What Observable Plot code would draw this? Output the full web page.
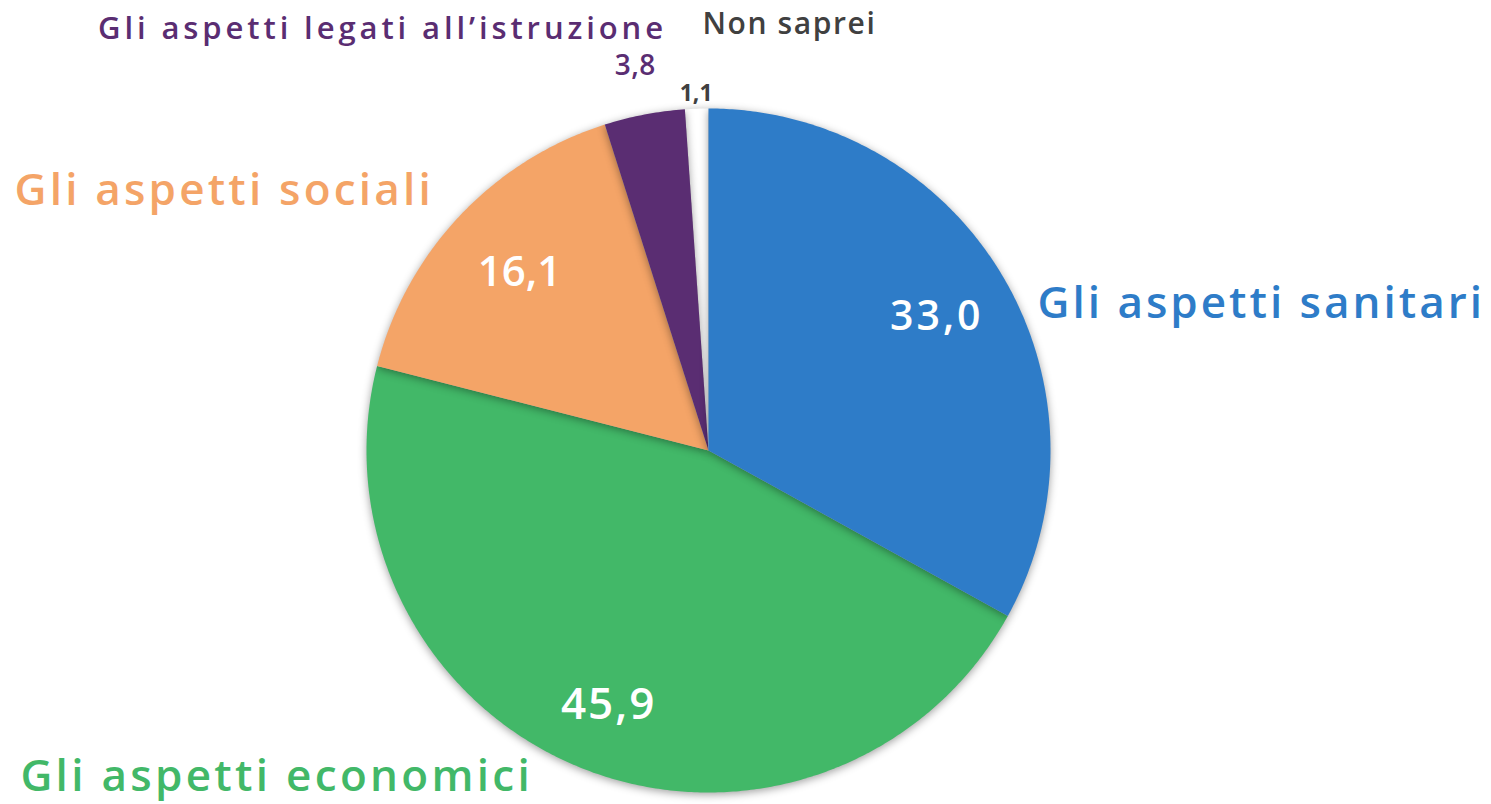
<!DOCTYPE html>
<html>
<head>
<meta charset="utf-8">
<script src="https://cdn.jsdelivr.net/npm/d3@7"></script>
<script src="https://cdn.jsdelivr.net/npm/@observablehq/plot@0.6"></script>
<style>
  html, body { margin: 0; padding: 0; background: #fff; }
  #chart svg { display: block; }
</style>
</head>
<body>
<div id="chart"></div>
<script>
// ---- data ----
const categories = ["Gli aspetti sanitari", "Gli aspetti economici", "Gli aspetti sociali", "Gli aspetti legati all\u2019istruzione", "Non saprei"];
const values = [33.0, 45.9, 16.1, 3.8, 1.1];
const valueLabels = ["33,0", "45,9", "16,1", "3,8", "1,1"];
const sliceColors = ["#2E7CC8", "#42B868", "#F4A467", "#5A2D72", "#FFFFFF"];
const labelColors = ["#2E7CC8", "#42B868", "#F4A467", "#5A2D72", "#404040"];

// ---- layout (styling, not data) ----
const W = 1491, H = 804, R = 342, CX = 708, CY = 450;
const FONT = "'Open Sans', Lato, sans-serif";
const drawOrder = [4, 1, 2, 3, 0];
const valueRadius = [0.77, 0.80, 0.76, 1.145, 1.045];
const valueStyle = [
  {fill: "#fff", size: 41, weight: 600, ls: 3},
  {fill: "#fff", size: 44, weight: 600, ls: 2},
  {fill: "#fff", size: 42, weight: 600, ls: 0},
  {fill: "#5A2D72", size: 28, weight: 600, ls: 0.5},
  {fill: "#404040", size: 23, weight: 700, ls: 0}
];
const catLayout = [
  {x: 0.962, y: 0.430, anchor: "start", size: 44, ls: 3},
  {x: -2.012, y: -0.953, anchor: "start", size: 44, ls: 3.3},
  {x: -2.029, y: 0.760, anchor: "start", size: 44, ls: 3.2},
  {x: -0.1215, y: 1.232, anchor: "end", size: 31, ls: 3.9},
  {x: -0.0175, y: 1.246, anchor: "start", size: 30, ls: 1.6}
];

// ---- pie geometry (unit circle, angle clockwise from 12 o'clock) ----
const total = d3.sum(values);
const starts = [];
let acc = 0;
values.forEach(v => { starts.push(acc / total * 2 * Math.PI); acc += v; });
const ends = values.map((v, i) => starts[i] + v / total * 2 * Math.PI);

const slicePts = [];
drawOrder.forEach(i => {
  slicePts.push({cat: categories[i], x: 0, y: 0});
  const n = Math.max(4, Math.ceil((ends[i] - starts[i]) / (Math.PI / 360)));
  for (let k = 0; k <= n; k++) {
    const a = starts[i] + (ends[i] - starts[i]) * k / n;
    slicePts.push({cat: categories[i], x: Math.sin(a), y: Math.cos(a)});
  }
});

const valuePts = values.map((v, i) => {
  const a = (starts[i] + ends[i]) / 2;
  return {label: valueLabels[i], x: Math.sin(a) * valueRadius[i], y: Math.cos(a) * valueRadius[i], i};
});

const marks = [
  Plot.line(slicePts, {x: "x", y: "y", z: "cat", fill: "cat", stroke: null, curve: "linear-closed"})
];
const spacings = [];
valuePts.forEach(p => {
  const s = valueStyle[p.i];
  spacings.push(s.ls);
  marks.push(Plot.text([p], {x: "x", y: "y", text: "label", fill: s.fill, fontSize: s.size, fontWeight: s.weight, fontFamily: FONT, textAnchor: "middle", dx: s.ls / 2}));
});
categories.forEach((c, i) => {
  const L = catLayout[i];
  spacings.push(L.ls);
  marks.push(Plot.text([{c, x: L.x, y: L.y}], {x: "x", y: "y", text: "c", fill: labelColors[i], fontSize: L.size, fontWeight: 600, fontFamily: FONT, textAnchor: L.anchor}));
});

const chart = Plot.plot({
  width: W, height: H,
  margin: 0,
  x: {domain: [-CX / R, (W - CX) / R], axis: null},
  y: {domain: [-(H - CY) / R, CY / R], axis: null},
  color: {domain: categories, range: sliceColors},
  style: {background: "#fff", overflow: "visible"},
  marks
});
document.getElementById("chart").appendChild(chart);
d3.select(chart).select('g[aria-label="line"]').selectAll("path")
  .style("filter", "drop-shadow(0px 2px 4px rgba(0,0,0,0.38))");
d3.select(chart).selectAll('g[aria-label="text"]').each(function(d, k) {
  d3.select(this).style("letter-spacing", spacings[k] + "px");
});
</script>
</body>
</html>
